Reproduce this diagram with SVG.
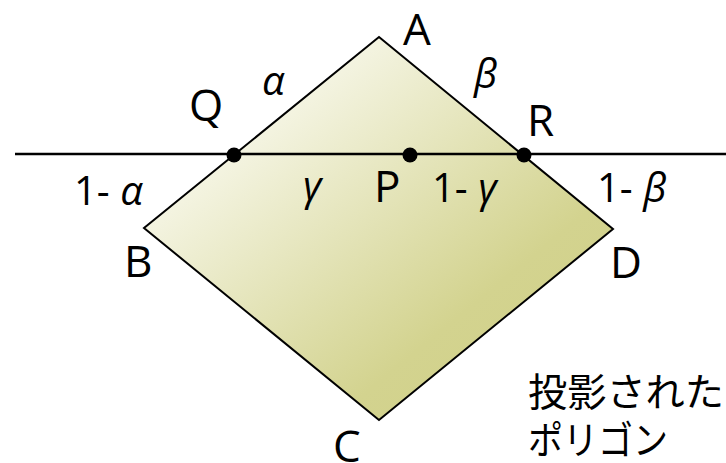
<svg xmlns="http://www.w3.org/2000/svg" width="726" height="463" viewBox="0 0 726 463">
<style>
.v{font-family:"Open Sans","DejaVu Sans",sans-serif;font-size:44px;fill:#000}
.e{font-family:"Open Sans","DejaVu Sans",sans-serif;font-size:40px;fill:#000}
.g{font-style:italic}
.j{font-family:"Noto Sans CJK JP","Noto Sans",sans-serif;font-size:39px;fill:#000}
.dot{fill:#000}
</style>
<defs>
<linearGradient id="fill" x1="0" y1="0" x2="1" y2="1">
<stop offset="0.15" stop-color="#fbfbf3"/>
<stop offset="0.7" stop-color="#d3d38f"/>
<stop offset="1" stop-color="#cfcf86"/>
</linearGradient>
</defs>
<g id="polygon">
<polygon points="379,37 613,229 379,420 144,228" fill="url(#fill)" stroke="#000" stroke-width="2"/>
</g>
<g id="connectors">
<line x1="15" y1="154" x2="726" y2="154" stroke="#000" stroke-width="2.5"/>
</g>
<g id="Q"><circle class="dot" cx="234" cy="155" r="7.5"/><text class="v" x="189" y="121">Q</text></g>
<g id="P"><circle class="dot" cx="410" cy="155" r="7.5"/><text class="v" x="374" y="202">P</text></g>
<g id="R"><circle class="dot" cx="524" cy="155" r="7.5"/><text class="v" x="527" y="136">R</text></g>
<g id="A"><text class="v" x="403" y="45">A</text></g>
<g id="B"><text class="v" x="124" y="277">B</text></g>
<g id="C"><text class="v" x="333" y="462">C</text></g>
<g id="D"><text class="v" x="610" y="278">D</text></g>
<g id="labels">
<text class="e g" x="262" y="95">α</text>
<text class="e g" x="474" y="88">β</text>
<text class="e" x="74" y="205">1- <tspan class="g">α</tspan></text>
<text class="e g" x="303" y="200">γ</text>
<text class="e" x="432" y="202">1- <tspan class="g">γ</tspan></text>
<text class="e" x="597" y="202">1- <tspan class="g">β</tspan></text>
</g>
<g id="caption">
<text class="j" x="528" y="406" textLength="196" lengthAdjust="spacingAndGlyphs">投影された</text>
<text class="j" x="528" y="454" textLength="140" lengthAdjust="spacingAndGlyphs">ポリゴン</text>
</g>
</svg>
